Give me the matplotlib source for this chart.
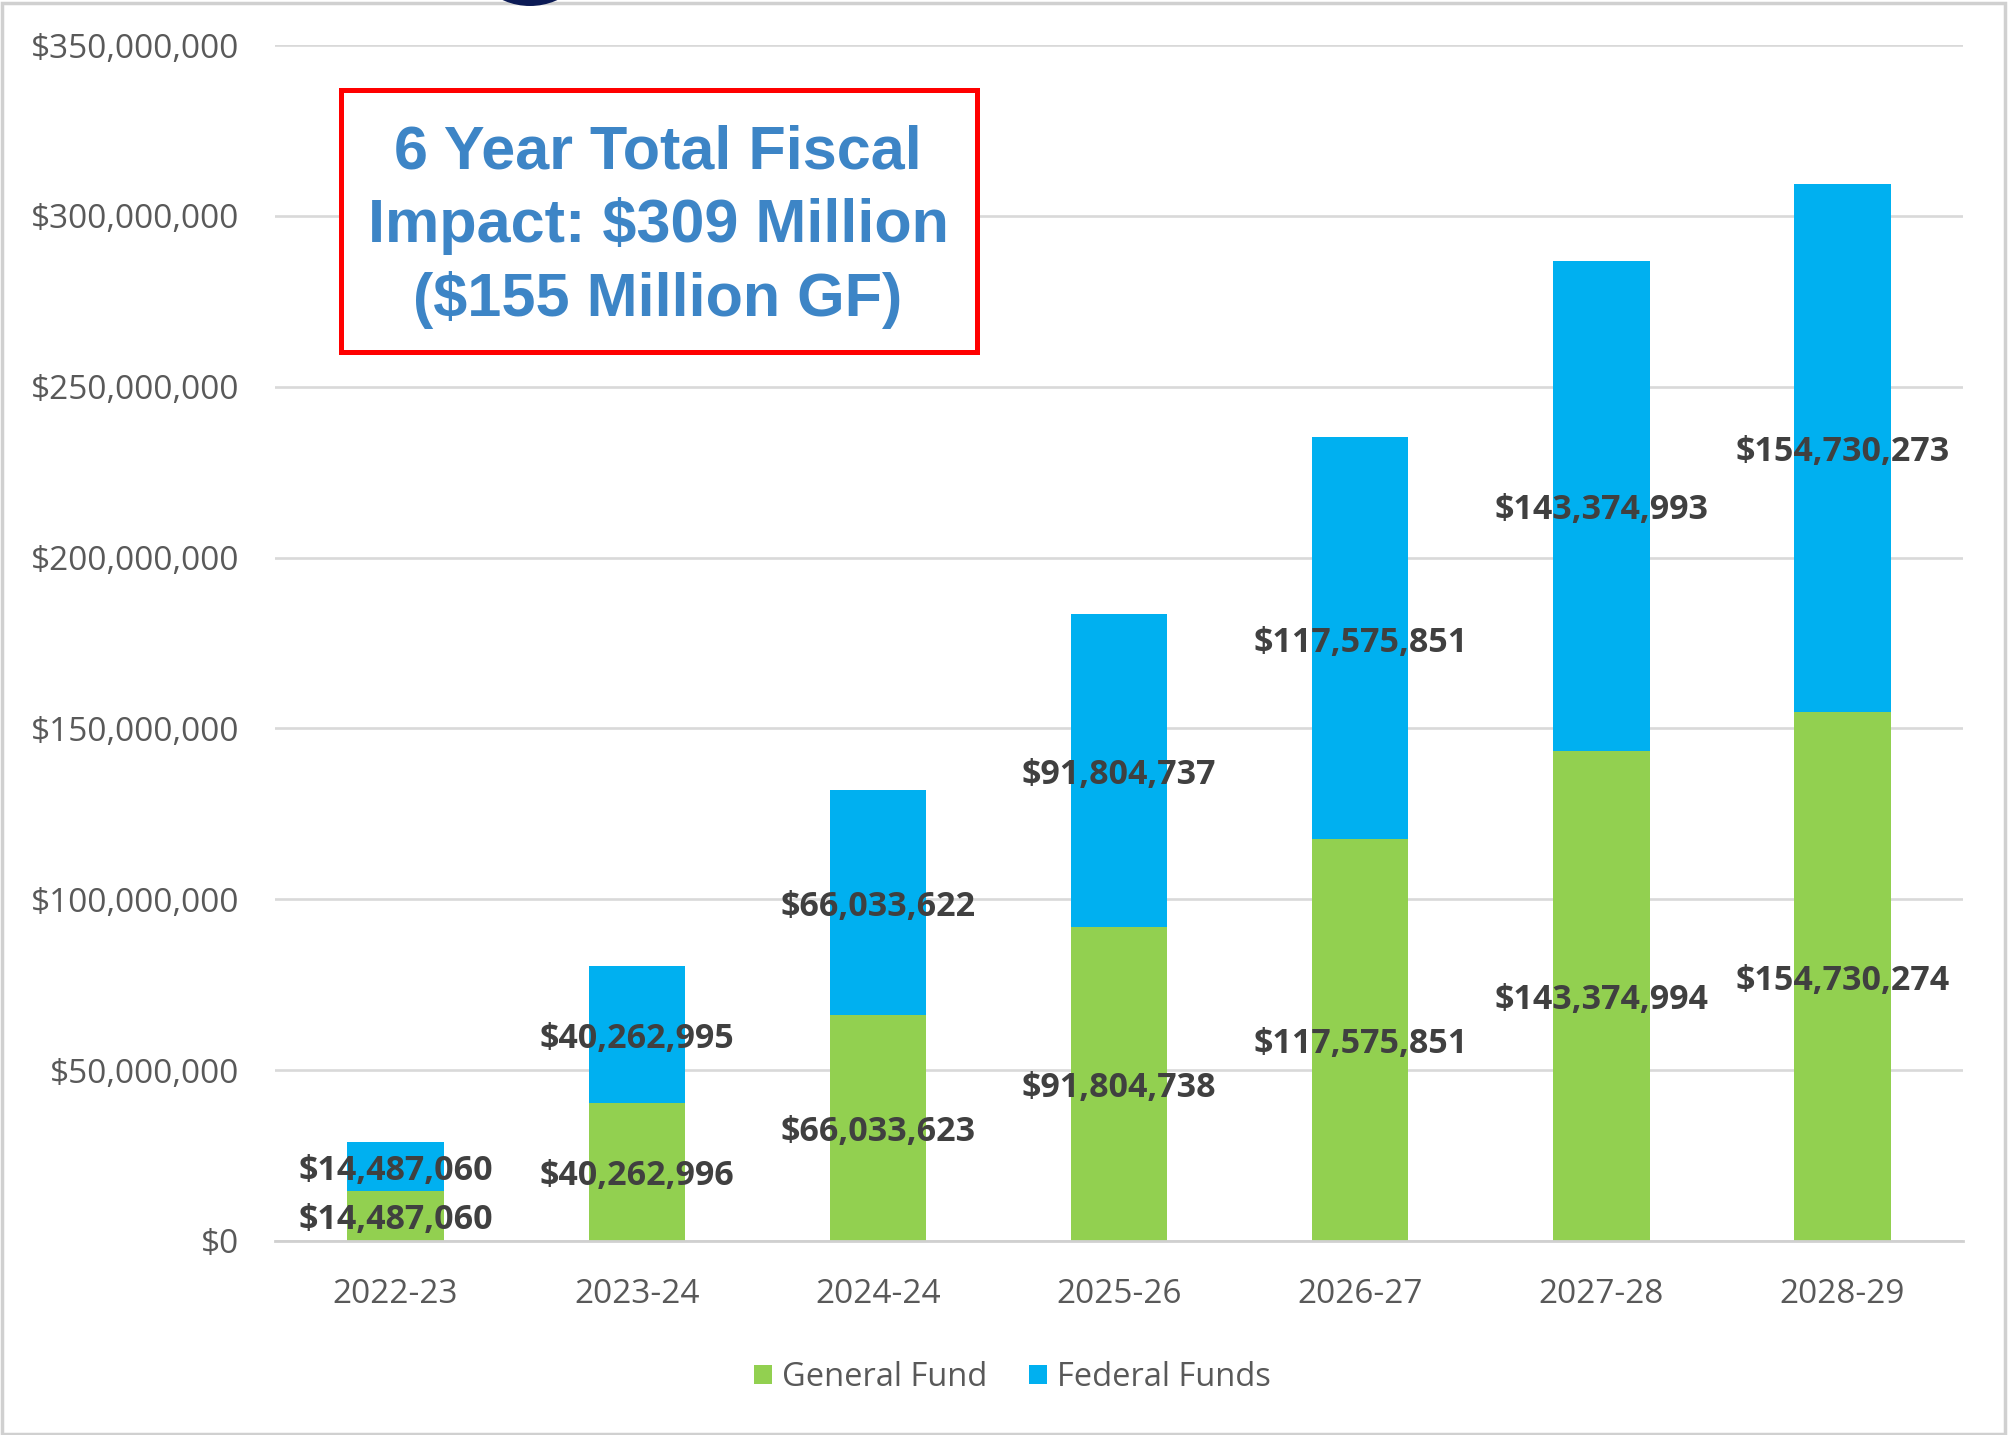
import numpy as np
import matplotlib
matplotlib.use('Agg')
import matplotlib.pyplot as plt
from matplotlib.patches import Rectangle, Ellipse
from matplotlib.ticker import FuncFormatter

# data
years = ['2022-23', '2023-24', '2024-24', '2025-26', '2026-27', '2027-28', '2028-29']
general_fund = [14487060, 40262996, 66033623, 91804738, 117575851, 143374994, 154730274]
federal_funds = [14487060, 40262995, 66033622, 91804737, 117575851, 143374993, 154730273]

green = '#92D050'
blue = '#00B0F0'
grey_txt = '#595959'
lab_txt = '#404040'

plt.rcParams['font.family'] = ['Open Sans', 'DejaVu Sans']

fig = plt.figure(figsize=(20.09, 14.35), dpi=100)
ax = fig.add_axes([0.1369, 0.1352, 0.9771 - 0.1369, 0.9686 - 0.1352])

x = np.arange(len(years))
w = 0.40
gf = np.array(general_fund)
ff = np.array(federal_funds)

b1 = ax.bar(x, gf, w, color=green, label='General Fund', zorder=2)
b2 = ax.bar(x, ff, w, bottom=gf, color=blue, label='Federal Funds', zorder=2)

# centred value labels (nudged down a little, like excel does)
for i in range(len(years)):
    ax.annotate('${:,.0f}'.format(gf[i]), (x[i], gf[i] / 2), xytext=(0, -3),
                textcoords='offset points', ha='center', va='center',
                fontsize=24.5, fontweight='bold', color=lab_txt, zorder=3)
    ax.annotate('${:,.0f}'.format(ff[i]), (x[i], gf[i] + ff[i] / 2), xytext=(0, -3),
                textcoords='offset points', ha='center', va='center',
                fontsize=24.5, fontweight='bold', color=lab_txt, zorder=3)

ax.set_xlim(-0.5, len(years) - 0.5)
ax.set_ylim(0, 350000000)
ax.set_yticks(np.arange(0, 350000001, 50000000))
ax.yaxis.set_major_formatter(FuncFormatter(lambda v, p: '${:,.0f}'.format(v)))
ax.set_xticks(x)
ax.set_xticklabels(years)

ax.grid(axis='y', color='#d9d9d9', linewidth=1.9, zorder=0)
ax.set_axisbelow(True)
for s in ['top', 'right', 'left']:
    ax.spines[s].set_visible(False)
ax.spines['bottom'].set_color('#d0d0d0')
ax.spines['bottom'].set_linewidth(2.0)
ax.tick_params(axis='both', length=0, labelsize=24, labelcolor=grey_txt)
ax.tick_params(axis='y', pad=26)
ax.tick_params(axis='x', pad=27)

fig.legend(handles=[b1, b2], loc='center', bbox_to_anchor=(0.504, 0.040), ncol=2,
           frameon=False, fontsize=23.5, handlelength=0.55, handleheight=0.55,
           handletextpad=0.3, columnspacing=1.3, labelcolor=grey_txt)

# callout box
fig.patches.append(Rectangle((0.1697, 0.7547), 0.3166, 0.1826, transform=fig.transFigure,
                             facecolor='white', edgecolor='#FF0000', linewidth=3.6, zorder=5))
box_lines = ['6 Year Total Fiscal', 'Impact: $309 Million', '($155 Million GF)']
for txt, yy in zip(box_lines, [0.8829, 0.8314, 0.7798]):
    fig.text(0.3275, yy, txt, ha='center', va='baseline', fontsize=44, fontweight='bold',
             color='#3d85c6', family='Liberation Sans', zorder=6)

# frame and bits of the slide around it
fig.patches.append(Rectangle((0.001, 0.001), 0.997, 0.997, transform=fig.transFigure,
                             facecolor='none', edgecolor='#d0d0d0', linewidth=2.5, zorder=7))
fig.patches.append(Ellipse((530 / 2009, 1 + 60 / 1435), 132 / 2009, 132 / 1435,
                           transform=fig.transFigure, facecolor='#0b1a55',
                           edgecolor='none', zorder=8))

fig.savefig('out.png', dpi=100)
